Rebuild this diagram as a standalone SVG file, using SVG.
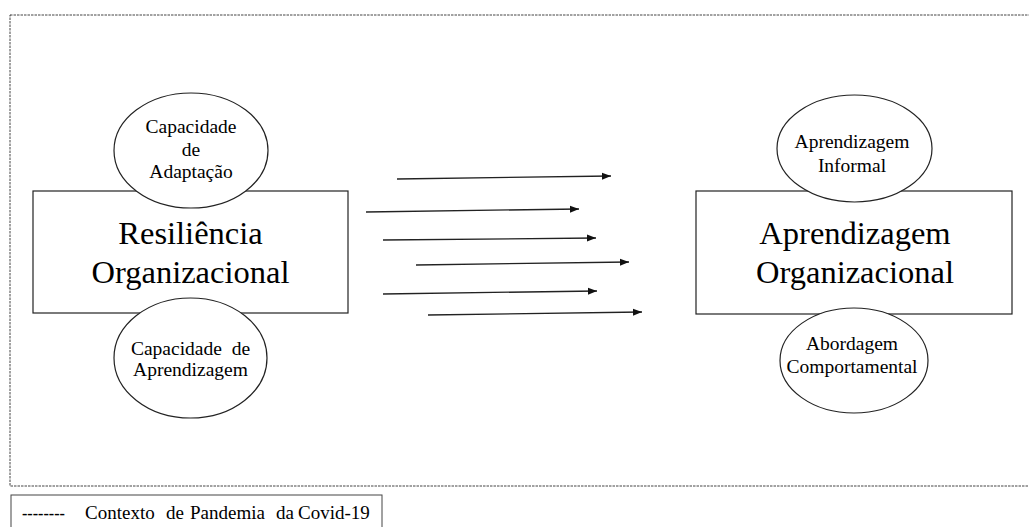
<svg xmlns="http://www.w3.org/2000/svg" width="1029" height="527" viewBox="0 0 1029 527">
<style>
  .box { fill: #fff; stroke: #222; stroke-width: 1.2; }
  .ell { fill: #fff; stroke: #222; stroke-width: 1.2; }
  text { font-family: 'Liberation Serif', 'Times New Roman', serif; fill: #000; }
  .big { font-size: 32.5px; text-anchor: middle; }
  .small { font-size: 19.5px; text-anchor: middle; }
  .leg { font-size: 19px; }
  .conn { stroke: #222; stroke-width: 1.3; fill: none; marker-end: url(#arr); }
</style>
<defs>
  <marker id="arr" markerWidth="10" markerHeight="8" refX="9" refY="4" orient="auto" markerUnits="userSpaceOnUse">
    <path d="M0,0.5 L9,4 L0,7.5 Z" fill="#111"/>
  </marker>
</defs>
<rect width="1029" height="527" fill="#fff"/>
<g id="context-border">
  <rect x="10" y="15" width="1040" height="471" fill="none" stroke="#444" stroke-width="1" stroke-dasharray="2.5,1"/>
</g>
<g id="resiliencia">
  <rect class="box" x="33" y="191" width="315" height="122"/>
  <text class="big" x="190.5" y="244">Resiliência</text>
  <text class="big" x="190.5" y="283">Organizacional</text>
</g>
<g id="capacidade-adaptacao">
  <ellipse class="ell" cx="191" cy="150.5" rx="77" ry="57.5"/>
  <text class="small" x="191" y="133">Capacidade</text>
  <text class="small" x="191" y="156">de</text>
  <text class="small" x="191" y="178">Adaptação</text>
</g>
<g id="capacidade-aprendizagem">
  <ellipse class="ell" cx="190.5" cy="358" rx="76.5" ry="60"/>
  <text class="small" x="190.5" y="355" xml:space="preserve">Capacidade  de</text>
  <text class="small" x="190.5" y="376">Aprendizagem</text>
</g>
<g id="aprendizagem-org">
  <rect class="box" x="696" y="191" width="316" height="123"/>
  <text class="big" x="855" y="244">Aprendizagem</text>
  <text class="big" x="855" y="283">Organizacional</text>
</g>
<g id="aprendizagem-informal">
  <ellipse class="ell" cx="854.5" cy="148.5" rx="77.5" ry="53.5"/>
  <text class="small" x="852" y="148">Aprendizagem</text>
  <text class="small" x="852" y="172">Informal</text>
</g>
<g id="abordagem-comportamental">
  <ellipse class="ell" cx="854" cy="360.5" rx="74" ry="52.5"/>
  <text class="small" x="852" y="350">Abordagem</text>
  <text class="small" x="852" y="373">Comportamental</text>
</g>
<g id="connectors">
  <line class="conn" x1="397" y1="179" x2="611" y2="176"/>
  <line class="conn" x1="366" y1="212" x2="579" y2="209"/>
  <line class="conn" x1="383" y1="240" x2="596" y2="238"/>
  <line class="conn" x1="416" y1="265" x2="629" y2="262"/>
  <line class="conn" x1="383" y1="294" x2="597" y2="291"/>
  <line class="conn" x1="428" y1="315" x2="642" y2="312"/>
</g>
<g id="legend">
  <rect x="11" y="495" width="371" height="40" fill="none" stroke="#444" stroke-width="1"/>
  <text class="leg" x="22" y="519" textLength="43" lengthAdjust="spacingAndGlyphs">--------</text>
  <text class="leg" x="85" y="519">Contexto</text>
  <text class="leg" x="166" y="519">de</text>
  <text class="leg" x="190" y="519">Pandemia</text>
  <text class="leg" x="276" y="519">da</text>
  <text class="leg" x="298" y="519">Covid-19</text>
</g>
</svg>
